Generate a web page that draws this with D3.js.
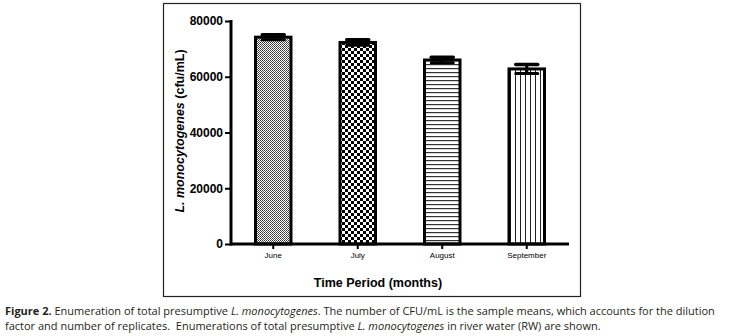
<!DOCTYPE html>
<html>
<head>
<meta charset="utf-8">
<script src="https://cdn.jsdelivr.net/npm/d3@7"></script>
<style>
  body { margin: 0; background: #fff; }
  svg { display: block; }
</style>
</head>
<body>
<svg id="chart" width="744" height="336"></svg>
<script>
// data
var months = ["June", "July", "August", "September"];
var means  = [74200, 72300, 66000, 62800];
var errs   = [900, 1000, 1000, 1600];
var yTicks = [0, 20000, 40000, 60000, 80000];
var patterns = ["fine", "checker", "hlines", "vlines"];

var svg = d3.select("#chart");
var width = 744, height = 336;

// fill patterns
var defs = svg.append("defs");

var p1 = defs.append("pattern").attr("id", "fine")
    .attr("patternUnits", "userSpaceOnUse").attr("width", 2).attr("height", 2);
p1.append("rect").attr("width", 2).attr("height", 2).attr("fill", "#fff");
p1.append("rect").attr("width", 1).attr("height", 1).attr("fill", "#333");
p1.append("rect").attr("x", 1).attr("y", 1).attr("width", 1).attr("height", 1).attr("fill", "#555");

var p2 = defs.append("pattern").attr("id", "checker")
    .attr("patternUnits", "userSpaceOnUse").attr("width", 6).attr("height", 6);
p2.append("rect").attr("width", 6).attr("height", 6).attr("fill", "#fff");
p2.append("rect").attr("width", 3).attr("height", 3).attr("fill", "#000");
p2.append("rect").attr("x", 3).attr("y", 3).attr("width", 3).attr("height", 3).attr("fill", "#000");

var p3 = defs.append("pattern").attr("id", "hlines")
    .attr("patternUnits", "userSpaceOnUse").attr("width", 4).attr("height", 4);
p3.append("rect").attr("width", 4).attr("height", 4).attr("fill", "#fff");
p3.append("rect").attr("y", 0).attr("width", 4).attr("height", 1.2).attr("fill", "#333");

var p4 = defs.append("pattern").attr("id", "vlines")
    .attr("patternUnits", "userSpaceOnUse").attr("width", 5).attr("height", 5);
p4.append("rect").attr("width", 5).attr("height", 5).attr("fill", "#fff");
p4.append("rect").attr("x", 0).attr("width", 1).attr("height", 5).attr("fill", "#222");

// outer frame
svg.append("rect")
    .attr("x", 163.5).attr("y", 3.5)
    .attr("width", 417).attr("height", 293)
    .attr("fill", "none")
    .attr("stroke", "#222")
    .attr("stroke-width", 1.2);

//
//**   Scales   **/
//

var x = d3.scaleBand()
    .domain(months)
    .range([231, 569])
    .paddingInner(0.58)
    .paddingOuter(0.29);

var y = d3.scaleLinear()
    .domain([0, 80000])
    .range([244, 21]);

//
//**   Bars   **/
//

var data = months.map(function (m, i) {
    return { month: m, mean: means[i], err: errs[i], pat: patterns[i] };
});

svg.selectAll("rect.bar").data(data)
  .enter().append("rect")
    .attr("class", "bar")
    .attr("x", function (d) { return x(d.month); })
    .attr("y", function (d) { return y(d.mean); })
    .attr("width", x.bandwidth())
    .attr("height", function (d) { return y(0) - y(d.mean); })
    .attr("fill", function (d) { return "url(#" + d.pat + ")"; })
    .attr("stroke", "#000")
    .attr("stroke-width", 3);

// error bars
var eb = svg.selectAll("g.err").data(data)
  .enter().append("g")
    .attr("class", "err")
    .attr("transform", function (d) {
        return "translate(" + (x(d.month) + x.bandwidth() / 2) + ",0)";
    });

eb.append("line")
    .attr("y1", function (d) { return y(d.mean + d.err); })
    .attr("y2", function (d) { return y(d.mean - d.err); })
    .attr("stroke", "#000").attr("stroke-width", 3);

eb.append("line")
    .attr("x1", -11).attr("x2", 11)
    .attr("y1", function (d) { return y(d.mean + d.err); })
    .attr("y2", function (d) { return y(d.mean + d.err); })
    .attr("stroke", "#000").attr("stroke-width", 3.5)
    .attr("stroke-linecap", "round");

eb.append("line")
    .attr("x1", -11).attr("x2", 11)
    .attr("y1", function (d) { return y(d.mean - d.err); })
    .attr("y2", function (d) { return y(d.mean - d.err); })
    .attr("stroke", "#000").attr("stroke-width", 3)
    .attr("stroke-linecap", "round");

//
//**   Axes   **/
//

var yAxis = d3.axisLeft(y)
    .tickValues(yTicks)
    .tickFormat(d3.format("d"))
    .tickSize(6)
    .tickPadding(2)
    .tickSizeOuter(0);

var gY = svg.append("g")
    .attr("transform", "translate(231,0)")
    .call(yAxis);
gY.select(".domain").attr("stroke", "#000").attr("stroke-width", 3)
    .attr("d", "M0," + (y(0) + 1.5) + "V" + (y(80000) - 1));
gY.selectAll(".tick line").attr("stroke-width", 2);
gY.selectAll(".tick text")
    .style("font-family", "Liberation Sans, Arial, sans-serif")
    .style("font-weight", "bold")
    .style("font-size", "12px")
    .attr("fill", "#000");

var xAxis = d3.axisBottom(x)
    .tickSize(5)
    .tickPadding(3)
    .tickSizeOuter(0);

var gX = svg.append("g")
    .attr("transform", "translate(0," + y(0) + ")")
    .call(xAxis);
gX.select(".domain").attr("stroke", "#000").attr("stroke-width", 3)
    .attr("d", "M231,0H569");
gX.selectAll(".tick line").attr("stroke-width", 2);
gX.selectAll(".tick text")
    .style("font-family", "Liberation Sans, Arial, sans-serif")
    .style("font-size", "8px")
    .attr("fill", "#000");

// axis titles
var yTitle = svg.append("text")
    .attr("transform", "translate(184," + 131 + ") rotate(-90)")
    .style("text-anchor", "middle")
    .style("font-family", "Liberation Sans, Arial, sans-serif")
    .style("font-weight", "bold")
    .style("font-size", "12.5px");
yTitle.append("tspan").style("font-style", "italic").text("L. monocytogenes");
yTitle.append("tspan").text(" (cfu/mL)");

svg.append("text")
    .attr("x", 378).attr("y", 287)
    .style("text-anchor", "middle")
    .style("font-family", "Liberation Sans, Arial, sans-serif")
    .style("font-weight", "bold")
    .style("font-size", "12.5px")
    .text("Time Period (months)");

//
//**   Caption   **/
//

var capFont = "'Open Sans', 'Noto Sans', sans-serif";
var c1 = svg.append("text")
    .attr("x", 5).attr("y", 315)
    .style("font-family", capFont)
    .style("font-size", "11px")
    .style("white-space", "pre")
    .attr("fill", "#231f20");
c1.append("tspan").style("font-weight", "bold").text("Figure 2.");
c1.append("tspan").text(" Enumeration of total presumptive ");
c1.append("tspan").style("font-style", "italic").text("L. monocytogenes");
c1.append("tspan").text(". The number of CFU/mL is the sample means, which accounts for the dilution");

var c2 = svg.append("text")
    .attr("x", 5).attr("y", 330)
    .style("font-family", capFont)
    .style("font-size", "11px")
    .style("white-space", "pre")
    .attr("fill", "#231f20");
c2.append("tspan").text("factor and number of replicates.  Enumerations of total presumptive ");
c2.append("tspan").style("font-style", "italic").text("L. monocytogenes");
c2.append("tspan").text(" in river water (RW) are shown.");
</script>
</body>
</html>
